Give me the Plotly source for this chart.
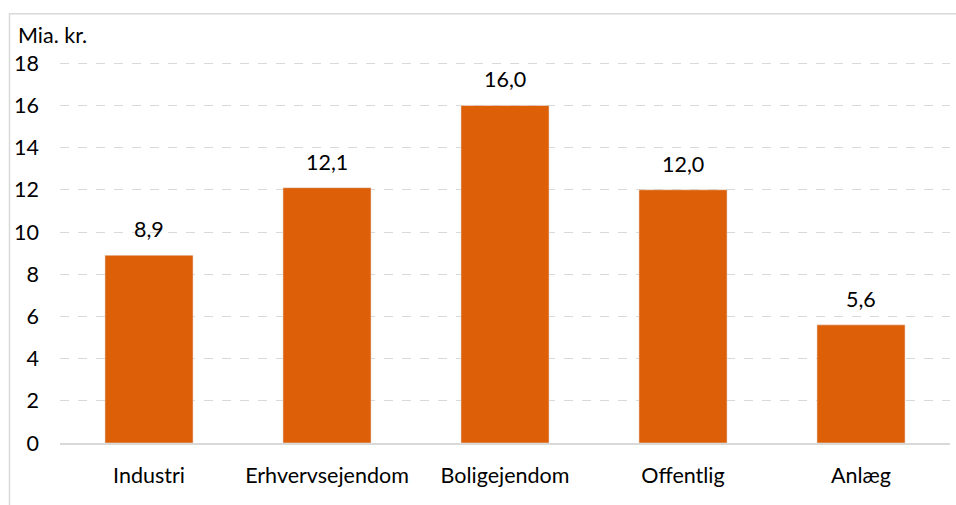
import plotly.graph_objects as go

categories = ["Industri", "Erhvervsejendom", "Boligejendom", "Offentlig", "Anlæg"]
values = [8.9, 12.1, 16.0, 12.0, 5.6]
y_ticks = [0, 2, 4, 6, 8, 10, 12, 14, 16, 18]
y_title = "Mia. kr."

W, H = 956, 505
Y_TOP = 18.2
L, R, B = 60, 6, 62
T = (H - B) - Y_TOP * 380 / 18
FONT = "Lato, 'Open Sans', sans-serif"
FS = 21.5
BAR = "#DD6008"

fig = go.Figure()
fig.add_trace(go.Bar(x=categories, y=values, marker_color=BAR, width=0.495,
                     hoverinfo="skip"))

for c, v in zip(categories, values):
    fig.add_annotation(x=c, y=v, text=f"{v:.1f}".replace(".", ","), showarrow=False,
                       yshift=26, font=dict(size=FS, color="#000", family=FONT))

pw = W - L - R
ph = H - T - B
def px_x(p):
    return (p - L) / pw
def px_y(p):
    return (H - B - p) / ph

fig.add_shape(type="rect", xref="paper", yref="paper",
              x0=px_x(9.5), x1=px_x(970), y0=px_y(13.5), y1=px_y(520),
              line=dict(color="#D9D9D9", width=1.5), fillcolor="rgba(0,0,0,0)", layer="below")

fig.add_annotation(xref="paper", yref="paper", x=px_x(16), y=px_y(35), xanchor="left",
                   yanchor="middle", text=y_title, showarrow=False,
                   font=dict(size=FS, color="#000", family=FONT))

fig.update_layout(
    width=W, height=H, margin=dict(l=L, r=R, t=T, b=B),
    paper_bgcolor="white", plot_bgcolor="white",
    font=dict(family=FONT, size=FS, color="#000"),
    showlegend=False, separators=",.",
    xaxis=dict(showgrid=False, showline=True, linecolor="#D9D9D9", linewidth=2,
               ticks="", ticklabelstandoff=12, tickfont=dict(size=FS)),
    yaxis=dict(range=[0, Y_TOP], tickvals=y_ticks, showgrid=True, gridcolor="#D9D9D9",
               griddash="dash", gridwidth=1, zeroline=False, showline=False,
               ticks="", ticklabelstandoff=20, tickfont=dict(size=FS)),
)

fig.write_html("out.html", config={"displayModeBar": False},
               post_script="document.body.style.margin='0';document.body.style.padding='0';")
